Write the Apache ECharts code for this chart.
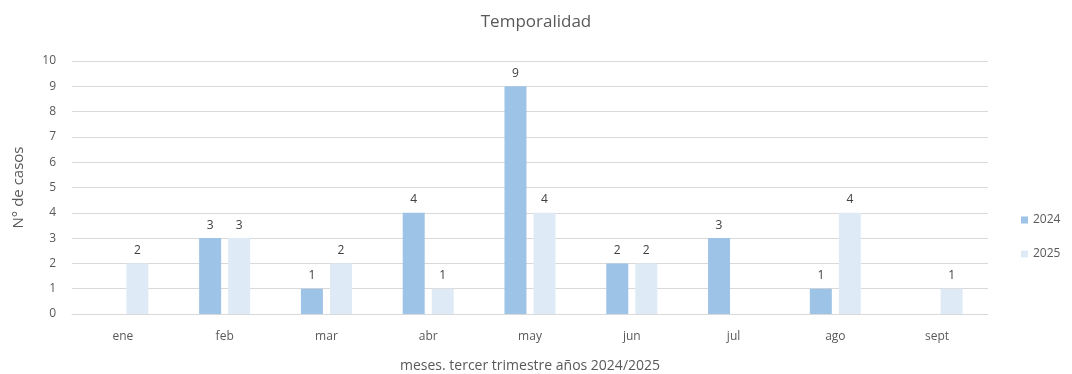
<!DOCTYPE html>
<html><head><meta charset="utf-8">
<script src="https://cdn.jsdelivr.net/npm/echarts@6/dist/echarts.min.js"></script>
<style>html,body{margin:0;padding:0;background:#fff}#c{width:1072px;height:374px}</style>
</head><body><div id="c"></div>
<script>
const categories = ['ene','feb','mar','abr','may','jun','jul','ago','sept'];
const values2024 = [null,3,1,4,9,2,3,1,null];
const values2025 = [2,3,2,1,4,2,null,4,1];
const yTicks = [0,1,2,3,4,5,6,7,8,9,10];
const font = '"Open Sans", "Liberation Sans", sans-serif';
const txt = '#595959';
const chart = echarts.init(document.getElementById('c'));
const lbl = {show:true, position:'top', color:'#404040', fontFamily:font, fontSize:12, distance:7};
chart.setOption({
  animation:false,
  title:{text:'Temporalidad', left:'center', top:9, textStyle:{fontFamily:font, fontSize:17, fontWeight:'normal', color:txt}},
  legend:{orient:'vertical', left:1016, top:209, itemWidth:7, itemHeight:7, itemGap:22, icon:'rect',
    textStyle:{fontFamily:font, fontSize:12, color:txt}, data:['2024','2025']},
  grid:{left:72, right:84, top:61, bottom:60, outerBoundsMode:'none', containLabel:false},
  xAxis:{type:'category', data:categories,
    name:'meses. tercer trimestre años 2024/2025', nameLocation:'middle', nameGap:45,
    nameTextStyle:{fontFamily:font, fontSize:14, color:txt},
    axisLine:{lineStyle:{color:'#d9d9d9'}}, axisTick:{show:false},
    axisLabel:{fontFamily:font, fontSize:12, color:txt, margin:17}},
  yAxis:{type:'value', min:yTicks[0], max:yTicks[yTicks.length-1], interval:1,
    name:'N° de casos', nameLocation:'middle', nameGap:46,
    nameTextStyle:{fontFamily:font, fontSize:15, color:txt},
    axisLine:{show:false}, axisTick:{show:false},
    axisLabel:{fontFamily:font, fontSize:12, color:txt, margin:16},
    splitLine:{lineStyle:{color:'#d9d9d9'}}},
  series:[
    {name:'2024', type:'bar', data:values2024, barWidth:22, barGap:'32%', itemStyle:{color:'#9dc3e6'}, label:lbl},
    {name:'2025', type:'bar', data:values2025, barWidth:22, itemStyle:{color:'#deebf7'}, label:lbl}
  ]
});
</script></body></html>
